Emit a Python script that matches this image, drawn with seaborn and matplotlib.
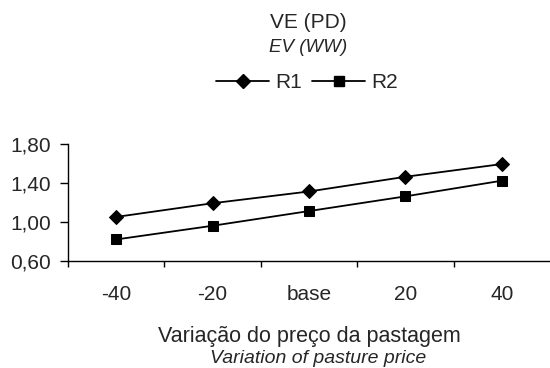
import matplotlib
matplotlib.use("Agg")
import matplotlib.pyplot as plt
import seaborn as sns
import pandas as pd
from matplotlib.ticker import FixedLocator, FixedFormatter
from matplotlib.lines import Line2D

categories = ["-40", "-20", "base", "20", "40"]
r1 = [1.05, 1.19, 1.31, 1.46, 1.59]
r2 = [0.82, 0.96, 1.11, 1.26, 1.42]
y_ticks = [0.60, 1.00, 1.40, 1.80]
y_tick_labels = ["0,60", "1,00", "1,40", "1,80"]

sns.set_style("white")
plt.rcParams["font.family"] = ["Liberation Sans", "DejaVu Sans"]

pos = list(range(len(categories)))
df = pd.DataFrame({
    "pos": pos * 2,
    "value": r1 + r2,
    "series": ["R1"] * len(r1) + ["R2"] * len(r2),
})

W, H = 550, 368
fig = plt.figure(figsize=(5.5, 3.68), dpi=100)
ax = fig.add_axes([68 / W, 1 - 261 / H, (550 - 68) / W, (261 - 143.5) / H])

sns.lineplot(data=df[df.series == "R1"], x="pos", y="value", color="black",
             marker="D", markersize=7.5, markeredgecolor="black", linewidth=1.3,
             ax=ax, legend=False, clip_on=False)
sns.lineplot(data=df[df.series == "R2"], x="pos", y="value", color="black",
             marker="s", markersize=6.5, markeredgecolor="black", linewidth=1.3,
             ax=ax, legend=False, clip_on=False)

ax.set_xlim(-0.5, len(categories) - 0.5)
ax.set_ylim(0.60, 1.80)
ax.xaxis.set_major_locator(FixedLocator([i - 0.5 for i in range(len(categories))]))
ax.xaxis.set_major_formatter(FixedFormatter([""] * len(categories)))
ax.xaxis.set_minor_locator(FixedLocator(pos))
ax.xaxis.set_minor_formatter(FixedFormatter(categories))
ax.tick_params(axis="x", which="major", direction="out", length=4, width=1, color="black", bottom=True)
ax.tick_params(axis="x", which="minor", length=0, labelsize=15, pad=17, bottom=True)
ax.set_yticks(y_ticks)
ax.set_yticklabels(y_tick_labels)
ax.tick_params(axis="y", direction="out", length=6, width=1, color="black", labelsize=15, pad=6, left=True)
ax.set_xlabel("")
ax.set_ylabel("")
for s in ["top", "right"]:
    ax.spines[s].set_visible(False)
for s in ["left", "bottom"]:
    ax.spines[s].set_color("black")
    ax.spines[s].set_linewidth(1)

cx = 308 / W
fig.text(cx, 1 - 22 / H, "VE (PD)", ha="center", va="center", fontsize=15)
fig.text(cx, 1 - 48 / H, "EV (WW)", ha="center", va="center", fontsize=13.5, style="italic")
fig.text(309 / W, 1 - 342 / H, "Variação do preço da pastagem", ha="center", va="baseline", fontsize=15.5)
fig.text(318 / W, 1 - 363 / H, "Variation of pasture price", ha="center", va="baseline", fontsize=14, style="italic")

handles = [Line2D([], [], color="black", marker="D", markersize=7.5, linewidth=1.3),
           Line2D([], [], color="black", marker="s", markersize=6.5, linewidth=1.3)]
fig.legend(handles, ["R1", "R2"], loc="center", bbox_to_anchor=(307 / W, 1 - 83 / H),
           ncol=2, frameon=False, fontsize=15, handlelength=2.55, handletextpad=0.28,
           columnspacing=0.5, borderpad=0)

fig.savefig("out.png", dpi=100)
